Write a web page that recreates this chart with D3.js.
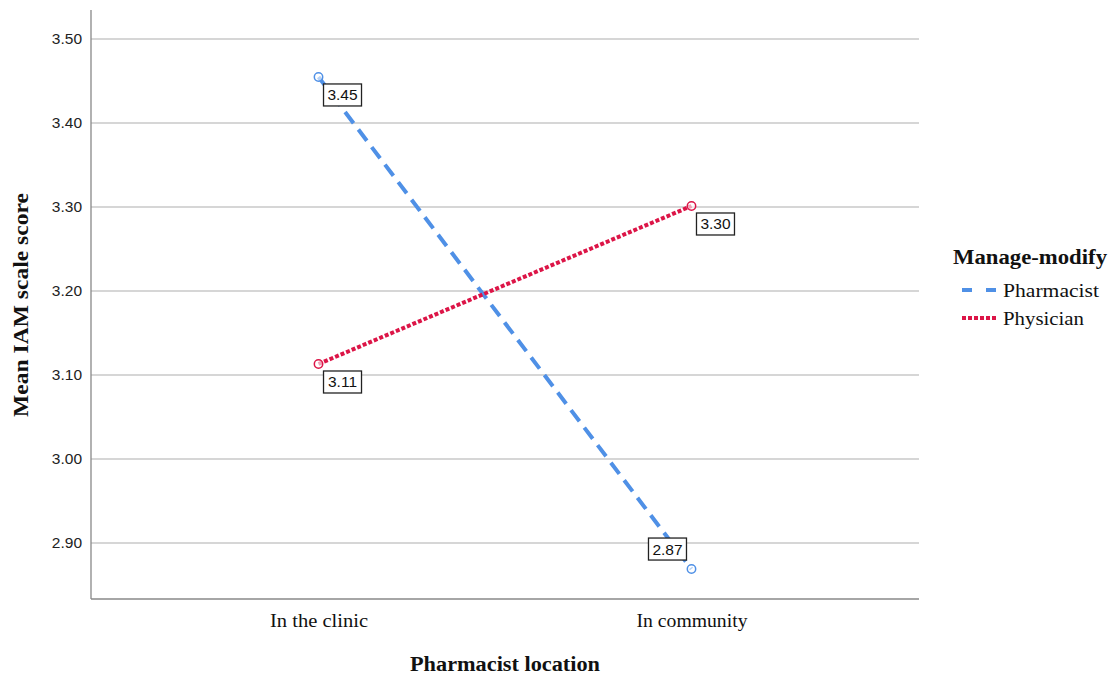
<!DOCTYPE html>
<html><head><meta charset="utf-8">
<script src="https://cdn.jsdelivr.net/npm/d3@7"></script>
<style>body{margin:0;background:#fff}</style>
</head><body>
<svg id="c" width="1110" height="677"></svg>
<script>
const categories = ["In the clinic", "In community"];
const seriesNames = ["Pharmacist", "Physician"];
const pharmacistValues = [3.4548, 2.8690];
const physicianValues = [3.1131, 3.3012];
const valueLabels = [["3.45", "2.87"], ["3.11", "3.30"]];
const yTicks = [2.90, 3.00, 3.10, 3.20, 3.30, 3.40, 3.50];

const svg = d3.select("#c");
const L = 91, R = 919, T = 10, B = 599;
const x = d3.scalePoint().domain(categories).range([L, R]).padding(0.61);
const y = d3.scaleLinear().domain([2.90 - 56/840, 3.50 + 29/840]).range([B, T]);
const serif = "Liberation Serif";

// gridlines
svg.append("g").selectAll("line").data(yTicks).join("line")
  .attr("x1", L).attr("x2", R).attr("y1", d => y(d)).attr("y2", d => y(d))
  .attr("stroke", "#c8c8c8").attr("stroke-width", 1.3);

// axes
const ya = svg.append("g").attr("transform", `translate(${L},0)`)
  .call(d3.axisLeft(y).tickValues(yTicks).tickFormat(d3.format(".2f")).tickSize(0).tickPadding(9));
ya.select(".domain").remove();
ya.selectAll("text").attr("font-family", "Liberation Sans").attr("font-size", 15.5).attr("fill", "#222");
svg.append("line").attr("x1", L).attr("x2", L).attr("y1", T).attr("y2", B).attr("stroke", "#888").attr("stroke-width", 1.3);

const catWidths = {"In the clinic": 98, "In community": 111};
const xa = svg.append("g").attr("transform", `translate(0,${B})`)
  .call(d3.axisBottom(x).tickSize(0).tickPadding(0));
xa.select(".domain").remove();
xa.selectAll("text").attr("dy", null).attr("y", 28)
  .attr("font-family", serif).attr("font-size", 19).attr("fill", "#111")
  .attr("textLength", d => catWidths[d]).attr("lengthAdjust", "spacingAndGlyphs");
svg.append("line").attr("x1", L).attr("x2", R).attr("y1", B).attr("y2", B).attr("stroke", "#888").attr("stroke-width", 1.3);

// titles
svg.append("text").attr("x", 505).attr("y", 671).attr("text-anchor", "middle")
  .attr("font-family", serif).attr("font-weight", "bold").attr("font-size", 20).attr("fill", "#111")
  .attr("textLength", 190).attr("lengthAdjust", "spacingAndGlyphs")
  .text("Pharmacist location");
svg.append("text").attr("transform", "translate(28,305) rotate(-90)").attr("text-anchor", "middle")
  .attr("font-family", serif).attr("font-weight", "bold").attr("font-size", 20).attr("fill", "#111")
  .attr("textLength", 224).attr("lengthAdjust", "spacingAndGlyphs")
  .text("Mean IAM scale score");

const series = [
  {name: seriesNames[0], values: pharmacistValues, color: "#4f90e6", dash: "14,8", labels: valueLabels[0]},
  {name: seriesNames[1], values: physicianValues, color: "#dc1547", dash: "4,2", labels: valueLabels[1]}
];
const line = d3.line().x((d, i) => x(categories[i])).y(d => y(d));

series.forEach(s => {
  svg.append("path").datum(s.values).attr("d", line).attr("fill", "none")
    .attr("stroke", s.color).attr("stroke-width", 4).attr("stroke-dasharray", s.dash);
  svg.append("g").selectAll("circle").data(s.values).join("circle")
    .attr("cx", (d, i) => x(categories[i])).attr("cy", d => y(d)).attr("r", 4.2)
    .attr("fill", "#fff").attr("fill-opacity", 0.6).attr("stroke", s.color).attr("stroke-width", 1.5);
});

// value label boxes
const labelData = [];
series.forEach(s => s.values.forEach((v, i) => labelData.push({v, i, t: s.labels[i]})));
const lg = svg.append("g");
labelData.forEach(d => {
  const px = x(categories[d.i]), py = y(d.v);
  const below = !(d.t === "2.87");
  const bx = below ? px + 5 : px - 43, by = below ? py + 7 : py - 31;
  lg.append("rect").attr("x", bx).attr("y", by).attr("width", 38).attr("height", 22)
    .attr("fill", "#fff").attr("stroke", "#222").attr("stroke-width", 1.3);
  lg.append("text").attr("x", bx + 19).attr("y", by + 16.5).attr("text-anchor", "middle")
    .attr("font-family", "Liberation Sans").attr("font-size", 15.5).attr("fill", "#111").text(d.t);
});

// legend
svg.append("text").attr("x", 953).attr("y", 264).attr("font-family", serif)
  .attr("font-weight", "bold").attr("font-size", 20).attr("fill", "#111")
  .attr("textLength", 154).attr("lengthAdjust", "spacingAndGlyphs").text("Manage-modify");
const legWidths = [96, 81];
series.forEach((s, k) => {
  const ly = 290 + k * 28;
  svg.append("line").attr("x1", 962).attr("x2", 998).attr("y1", ly).attr("y2", ly)
    .attr("stroke", s.color).attr("stroke-width", 4).attr("stroke-dasharray", k === 0 ? "10,14" : "4,2");
  svg.append("text").attr("x", 1003).attr("y", ly + 7).attr("font-family", serif)
    .attr("font-size", 19).attr("fill", "#111")
    .attr("textLength", legWidths[k]).attr("lengthAdjust", "spacingAndGlyphs").text(s.name);
});
</script>
</body></html>
